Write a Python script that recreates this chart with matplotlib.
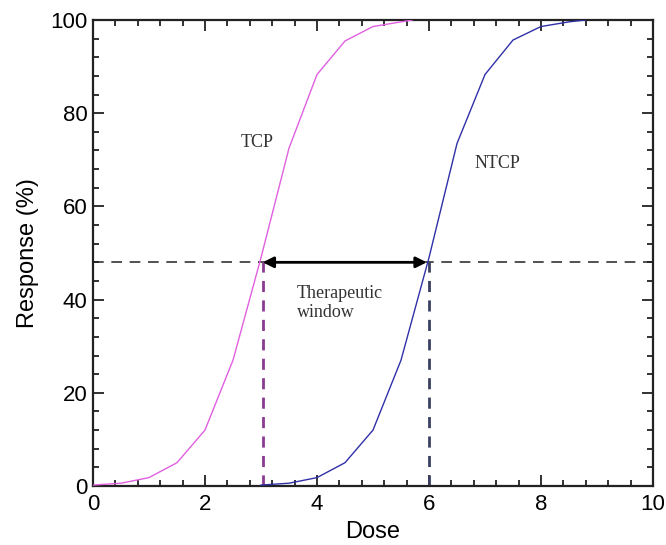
import matplotlib
matplotlib.use("Agg")
import matplotlib.pyplot as plt
from matplotlib.ticker import MultipleLocator

# Data
tcp_dose = [0, 0.5, 1.0, 1.5, 2.0, 2.5, 3.0, 3.5, 4.0, 4.5, 5.0, 5.5, 5.7]
tcp_resp = [0.2, 0.6, 1.8, 5.0, 12.0, 27.0, 49.0, 72.5, 88.3, 95.5, 98.6, 99.6, 100]
ntcp_dose = [3.0, 3.5, 4.0, 4.5, 5.0, 5.5, 6.0, 6.5, 7.0, 7.5, 8.0, 8.5, 8.8]
ntcp_resp = [0.2, 0.6, 1.8, 5.0, 12.0, 27.0, 49.0, 73.5, 88.3, 95.7, 98.6, 99.6, 100]
threshold = 48
tcp_x = 3.03
ntcp_x = 6.0

plt.rcParams['font.family'] = ['Liberation Sans', 'DejaVu Sans']

fig = plt.figure(figsize=(6.66, 5.45), dpi=100)
ax = fig.add_axes([93/666, 59/545, 560/666, 466/545])

ax.plot(tcp_dose, tcp_resp, color='#e060e0', lw=1.0, zorder=3)
ax.plot(ntcp_dose, ntcp_resp, color='#3030a8', lw=1.0, zorder=3)

ax.axhline(threshold, color='#222222', lw=1.1, dashes=(7, 5), zorder=2)
ax.plot([tcp_x, tcp_x], [0, threshold], color='#8a3a90', lw=2.0, dashes=(4, 3), zorder=2)
ax.plot([ntcp_x, ntcp_x], [0, threshold], color='#3a4060', lw=2.0, dashes=(4, 3), zorder=2)

ax.annotate('', xy=(tcp_x, threshold), xytext=(ntcp_x - 0.04, threshold),
            arrowprops=dict(arrowstyle='<|-|>', color='black', lw=2.0,
                            mutation_scale=16, shrinkA=0, shrinkB=0), zorder=4)

serif = ['Liberation Serif', 'DejaVu Serif']
ax.text(2.93, 73.8, 'TCP', family=serif, fontsize=13, color='#333333', ha='center', va='center')
ax.text(7.23, 69.3, 'NTCP', family=serif, fontsize=13, color='#333333', ha='center', va='center')
ax.text(3.64, 39.3, 'Therapeutic\nwindow', family=serif, fontsize=13, color='#333333',
        ha='left', va='center', linespacing=1.15)

ax.set_xlim(0, 10)
ax.set_ylim(0, 100)
ax.xaxis.set_major_locator(MultipleLocator(2))
ax.xaxis.set_minor_locator(MultipleLocator(0.4))
ax.yaxis.set_major_locator(MultipleLocator(20))
ax.yaxis.set_minor_locator(MultipleLocator(4))
ax.tick_params(which='both', direction='in', top=True, right=True, width=1.3, color='#222222')
ax.tick_params(which='major', length=8, labelsize=16)
ax.tick_params(axis='x', which='major', pad=6)
ax.tick_params(axis='y', which='major', pad=4)
ax.tick_params(which='minor', length=4)
for s in ax.spines.values():
    s.set_linewidth(1.6)
    s.set_color('#222222')

ax.set_xlabel('Dose', fontsize=17, labelpad=4)
ax.set_ylabel('Response (%)', fontsize=17, labelpad=8)

fig.savefig('out.png', dpi=100)
